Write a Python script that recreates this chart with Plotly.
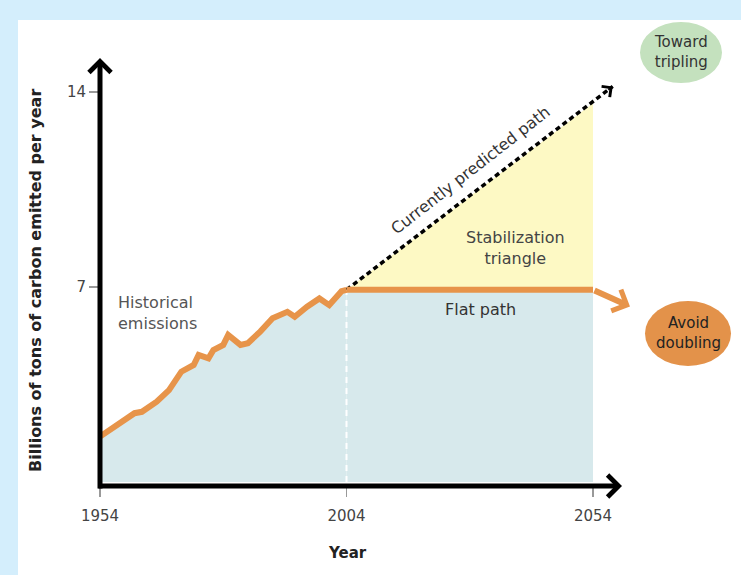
import plotly.graph_objects as go

# ---------------- data ----------------
hist_years = [1954, 1955, 1958, 1961, 1962.5, 1965.5, 1968, 1970.5, 1973, 1974,
              1976, 1977, 1979, 1980, 1982.5, 1984, 1986.5, 1989, 1992, 1993.5,
              1996, 1998.5, 2000.5, 2003, 2004]
hist_values = [1.63, 1.75, 2.16, 2.47, 2.52, 2.88, 3.30, 3.96, 4.20, 4.56,
               4.44, 4.74, 4.92, 5.28, 4.92, 4.98, 5.40, 5.88, 6.11, 5.93,
               6.29, 6.59, 6.35, 6.85, 6.9]
flat_years = [2004, 2054]
flat_values = [6.9, 6.9]
flat_arrow_year = 2061.5
flat_arrow_value = 6.3
predicted_years = [2004, 2058]
predicted_values = [6.9, 14.2]
triangle_years = [2004, 2054, 2054]
triangle_values = [6.9, 13.6, 6.9]
x_tick_vals = [1954, 2004, 2054]
x_tick_text = ["1954", "2004", "2054"]
y_tick_vals = [7, 14]
y_tick_text = ["7", "14"]

# ---------------- styling ----------------
W, H = 741, 575
ML, MR, MT, MB = 100, 41, 58, 89
PW, PH = W - ML - MR, H - MT - MB
FONT = "DejaVu Sans"
ORANGE = "#e7944a"
BLUEFILL = "#d7e9ec"
YELLOW = "#fdf9c4"
BG = "#d4eefc"


def px(x):
    return (x - ML) / PW


def py(y):
    return (H - MB - y) / PH


fig = go.Figure()

# fills
fig.add_trace(go.Scatter(x=hist_years, y=hist_values, mode="lines", fill="tozeroy",
                         fillcolor=BLUEFILL, line=dict(width=0), hoverinfo="skip"))
fig.add_trace(go.Scatter(x=flat_years, y=flat_values, mode="lines", fill="tozeroy",
                         fillcolor=BLUEFILL, line=dict(width=0), hoverinfo="skip"))
fig.add_trace(go.Scatter(x=triangle_years, y=triangle_values, mode="lines", fill="toself",
                         fillcolor=YELLOW, line=dict(width=0), hoverinfo="skip"))
# white dashed divider at 2004
fig.add_trace(go.Scatter(x=[flat_years[0], flat_years[0]], y=[0, flat_values[0]], mode="lines",
                         line=dict(color="white", width=2, dash="6px,5px"), hoverinfo="skip"))
# lines
fig.add_trace(go.Scatter(x=predicted_years, y=predicted_values, mode="lines",
                         line=dict(color="black", width=3.5, dash="5px,3.5px"), hoverinfo="skip"))
fig.add_trace(go.Scatter(x=hist_years, y=hist_values, mode="lines",
                         line=dict(color=ORANGE, width=6), hoverinfo="skip"))
fig.add_trace(go.Scatter(x=flat_years, y=flat_values, mode="lines",
                         line=dict(color=ORANGE, width=6), hoverinfo="skip"))

x_per_px = 1 / 4.93
y_per_px = 1 / 27.857
xr = [1954, 1954 + PW * x_per_px]
yr = [-(4 * y_per_px), -(4 * y_per_px) + PH * y_per_px]

annotations = []
# axes with chevron arrowheads
annotations.append(dict(x=px(622), y=0, xref="paper", yref="paper", ax=-525, ay=0,
                        axref="pixel", ayref="pixel", text="", showarrow=True,
                        arrowhead=4, arrowwidth=5, arrowsize=0.85, arrowcolor="black"))
annotations.append(dict(x=0, y=py(58), xref="paper", yref="paper", ax=0, ay=432,
                        axref="pixel", ayref="pixel", text="", showarrow=True,
                        arrowhead=4, arrowwidth=5, arrowsize=0.85, arrowcolor="black"))
# flat path arrow
annotations.append(dict(x=flat_arrow_year, y=flat_arrow_value, xref="x", yref="y",
                        ax=flat_years[-1], ay=flat_values[-1], axref="x", ayref="y",
                        text="", showarrow=True, arrowhead=4, arrowwidth=6,
                        arrowsize=0.75, arrowcolor=ORANGE))
# predicted path small arrowhead
annotations.append(dict(x=predicted_years[-1], y=predicted_values[-1], xref="x", yref="y",
                        ax=predicted_years[-1] - 1.2, ay=predicted_values[-1] - 0.16,
                        axref="x", ayref="y", text="", showarrow=True, arrowhead=4,
                        arrowwidth=2, arrowsize=1.3, arrowcolor="black"))


def txt(t, x, y, size=16, color="#444", angle=0, xanchor="center", align="center", bold=False):
    annotations.append(dict(text=("<b>%s</b>" % t) if bold else t, x=px(x), y=py(y),
                            xref="paper", yref="paper", showarrow=False,
                            xanchor=xanchor, yanchor="middle", align=align,
                            textangle=angle, font=dict(family=FONT, size=size, color=color)))


txt("Historical<br>emissions", 116, 313, color="#555", xanchor="left", align="left")
txt("Flat path", 480, 309, color="#333")
txt("Stabilization<br>triangle", 515, 248, color="#444")
txt("Currently predicted path", 470, 170, color="#333", angle=-38)
txt("Toward<br>tripling", 681, 52, size=15, color="#333")
txt("Avoid<br>doubling", 688, 333, size=15, color="#222")
txt("Year", 347, 553, size=15, color="#222", bold=True)
txt("Billions of tons of carbon emitted per year", 35, 281, size=16, color="#222",
    angle=-90, bold=True)

shapes = [
    # white panel
    dict(type="rect", xref="paper", yref="paper", x0=px(18), x1=px(760), y0=py(20), y1=py(600),
         fillcolor="white", line=dict(width=0), layer="below"),
    # ellipses
    dict(type="circle", xref="paper", yref="paper", x0=px(640), x1=px(722), y0=py(22), y1=py(83),
         fillcolor="#c4e1be", line=dict(width=0)),
    dict(type="circle", xref="paper", yref="paper", x0=px(645), x1=px(731), y0=py(301), y1=py(366),
         fillcolor="#e3924a", line=dict(width=0)),
]

fig.update_layout(
    width=W, height=H, autosize=False,
    margin=dict(l=ML, r=MR, t=MT, b=MB),
    paper_bgcolor=BG, plot_bgcolor="white",
    showlegend=False,
    annotations=annotations, shapes=shapes,
    xaxis=dict(range=xr, showgrid=False, zeroline=False, showline=False,
               tickvals=x_tick_vals, ticktext=x_tick_text, ticks="outside", ticklen=10,
               tickcolor="#999", tickwidth=1.5, ticklabelstandoff=6,
               tickfont=dict(family=FONT, size=15, color="#444"), fixedrange=True),
    yaxis=dict(range=yr, showgrid=False, zeroline=False, showline=False,
               tickvals=y_tick_vals, ticktext=y_tick_text, ticks="outside", ticklen=10,
               tickcolor="#999", tickwidth=1.5,
               tickfont=dict(family=FONT, size=15, color="#444"), fixedrange=True),
)

fig.write_html("out.html", config={"displayModeBar": False, "staticPlot": True},
               post_script="document.body.style.margin='0';document.body.style.background='%s';" % BG)
